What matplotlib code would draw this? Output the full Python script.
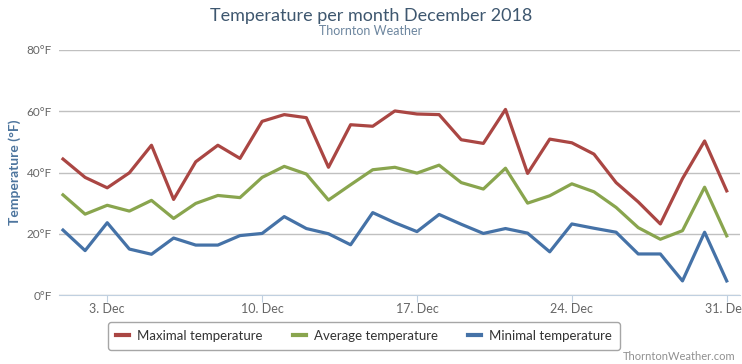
import matplotlib.pyplot as plt

plt.rcParams['font.family'] = ['Lato', 'DejaVu Sans']

days = list(range(1, 32))
max_temp = [44.4, 38.4, 35.0, 39.9, 48.9, 31.2, 43.5, 48.9, 44.6, 56.7,
            58.9, 57.9, 41.7, 55.6, 55.1, 60.1, 59.1, 58.9, 50.7, 49.5,
            60.6, 39.7, 50.9, 49.7, 46.0, 36.7, 30.4, 23.2, 38.0, 50.3, 34.0]
avg_temp = [32.7, 26.4, 29.3, 27.4, 30.9, 25.0, 29.9, 32.5, 31.8, 38.4,
            42.0, 39.5, 31.0, 36.0, 40.9, 41.7, 39.8, 42.4, 36.7, 34.6,
            41.4, 30.0, 32.4, 36.3, 33.7, 28.6, 22.0, 18.2, 21.0, 35.2, 19.3]
min_temp = [21.2, 14.5, 23.6, 15.0, 13.3, 18.6, 16.3, 16.3, 19.4, 20.1,
            25.6, 21.7, 20.0, 16.4, 26.9, 23.6, 20.7, 26.3, 23.1, 20.1,
            21.7, 20.2, 14.1, 23.2, 21.8, 20.5, 13.4, 13.4, 4.6, 20.5, 4.6]
tick_days = [3, 10, 17, 24, 31]
tick_labels = ["3. Dec", "10. Dec", "17. Dec", "24. Dec", "31. Dec"]
y_ticks = [0, 20, 40, 60, 80]

fig = plt.figure(figsize=(7.42, 3.64), dpi=100)
ax = fig.add_axes([59 / 742, 1 - 295 / 364, 681 / 742, 245 / 364])

ax.plot(days, max_temp, color="#AA4643", lw=2.3, label="Maximal temperature")
ax.plot(days, avg_temp, color="#89A54E", lw=2.3, label="Average temperature")
ax.plot(days, min_temp, color="#4572A7", lw=2.3, label="Minimal temperature")

ax.set_xlim(0.82, 31.6)
ax.set_ylim(0, 80)
ax.set_yticks(y_ticks)
ax.set_yticklabels([f"{v}°F" for v in y_ticks])
ax.set_xticks(tick_days)
ax.set_xticklabels(tick_labels)
ax.grid(axis="y", color="#C0C0C0", lw=1)
ax.set_axisbelow(True)

for s in ["top", "right", "left"]:
    ax.spines[s].set_visible(False)
ax.spines["bottom"].set_color("#C0D0E0")
ax.tick_params(axis="y", length=0, pad=5, labelsize=8.5, labelcolor="#666666")
ax.tick_params(axis="x", length=5, color="#C0D0E0", labelsize=9, labelcolor="#666666", pad=1)

ax.set_ylabel("Temperature (°F)", color="#4D759E", fontsize=10, fontweight="bold", labelpad=4)

fig.text(0.5, 1 - 16 / 364, "Temperature per month December 2018", ha="center", va="center",
         fontsize=13, color="#3E576F")
fig.text(0.5, 1 - 31 / 364, "Thornton Weather", ha="center", va="center",
         fontsize=9, color="#6D869F")
fig.text(735 / 742, 1 - 356 / 364, "ThorntonWeather.com", ha="right", va="center",
         fontsize=8, color="#909090")

leg = fig.legend(loc="center", bbox_to_anchor=(364 / 742, 1 - 336 / 364), ncol=3,
                 frameon=True, fancybox=True, edgecolor="#909090", fontsize=9.5,
                 handlelength=1.0, handletextpad=0.6, columnspacing=2.3,
                 borderpad=0.6, labelcolor="#333333")
leg.get_frame().set_linewidth(1)
for h in leg.get_lines():
    h.set_linewidth(3)

fig.savefig("out.png", dpi=100)
